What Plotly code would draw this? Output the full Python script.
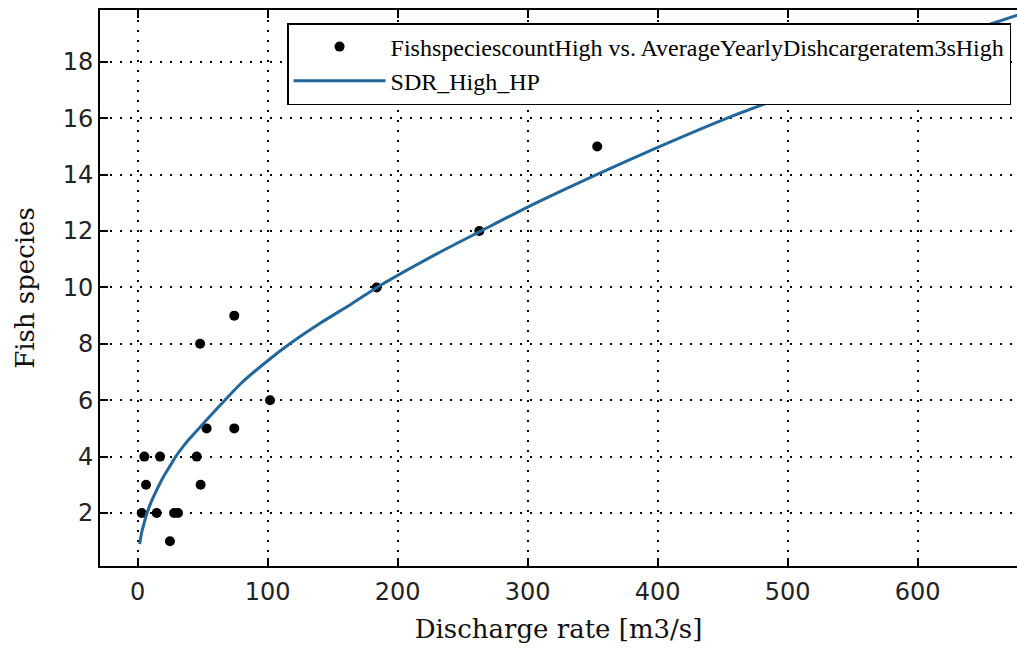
import plotly.graph_objects as go

discharge = [3.1, 5.1, 6.4, 14.6, 17.2, 24.8, 28.0, 31.0, 45.4, 48.4, 48.0, 53.0,
             74.3, 74.3, 101.8, 183.8, 262.8, 353.5]
species = [2, 4, 3, 2, 4, 1, 2, 2, 4, 3, 8, 5, 5, 9, 6, 10, 12, 15]

# Fitted curve SDR_High_HP
fit_x = [1.5, 3, 5, 7, 10, 15, 20, 25, 29, 35, 40, 52, 67, 80, 100, 117, 140, 165, 184,
         230, 264, 300, 353, 400, 453, 484, 500, 560, 620, 658, 680]
fit_y = [0.9, 1.3, 1.65, 1.97, 2.35, 2.85, 3.3, 3.68, 3.98, 4.36, 4.64, 5.25, 6.0, 6.62,
         7.4, 8.0, 8.72, 9.43, 10.0, 11.19, 12.0, 12.85, 14.0, 14.97, 16.0, 16.54,
         16.81, 17.81, 18.77, 19.37, 19.71]

x_ticks = [0, 100, 200, 300, 400, 500, 600]
y_ticks = [2, 4, 6, 8, 10, 12, 14, 16, 18]

scatter_name = "FishspeciescountHigh vs. AverageYearlyDishcargeratem3sHigh"
fit_name = "SDR_High_HP"

fig = go.Figure()
fig.add_trace(go.Scatter(
    x=discharge, y=species, mode="markers", name=scatter_name,
    marker=dict(color="black", size=10),
))
fig.add_trace(go.Scatter(
    x=fit_x, y=fit_y, mode="lines", name=fit_name,
    line=dict(color="#22679c", width=3, shape="spline", smoothing=0.6),
))

tick_font = dict(family="DejaVu Sans", size=24, color="#222222")
title_font = dict(family="DejaVu Serif", size=26, color="#111111")

fig.update_layout(
    width=1017, height=650, autosize=False,
    margin=dict(l=100, r=0, t=10, b=84),
    paper_bgcolor="white", plot_bgcolor="white",
    showlegend=True,
    legend=dict(
        x=0.204, y=0.9766, xanchor="left", yanchor="top",
        bgcolor="white", bordercolor="black", borderwidth=1.5,
        font=dict(family="Liberation Serif", size=24, color="black"),
        itemwidth=92,
    ),
    xaxis=dict(
        range=[-29, 676.4], tickvals=x_ticks,
        showline=True, linecolor="black", linewidth=2, mirror="ticks",
        ticks="inside", ticklen=8, tickwidth=1.5, tickcolor="black",
        showgrid=True, gridcolor="black", gridwidth=1.5, griddash="2px,8px",
        zeroline=False, tickfont=tick_font, ticklabelstandoff=3,
        title=dict(text="Discharge rate [m3/s]", font=title_font, standoff=15),
    ),
    yaxis=dict(
        range=[0.12, 19.84], tickvals=y_ticks,
        showline=True, linecolor="black", linewidth=2, mirror=False,
        ticks="inside", ticklen=8, tickwidth=1.5, tickcolor="black",
        showgrid=True, gridcolor="black", gridwidth=1.5, griddash="2px,8px",
        zeroline=False, tickfont=tick_font,
        title=dict(text="Fish species", font=title_font, standoff=21),
    ),
)

fig.write_html("out.html")
